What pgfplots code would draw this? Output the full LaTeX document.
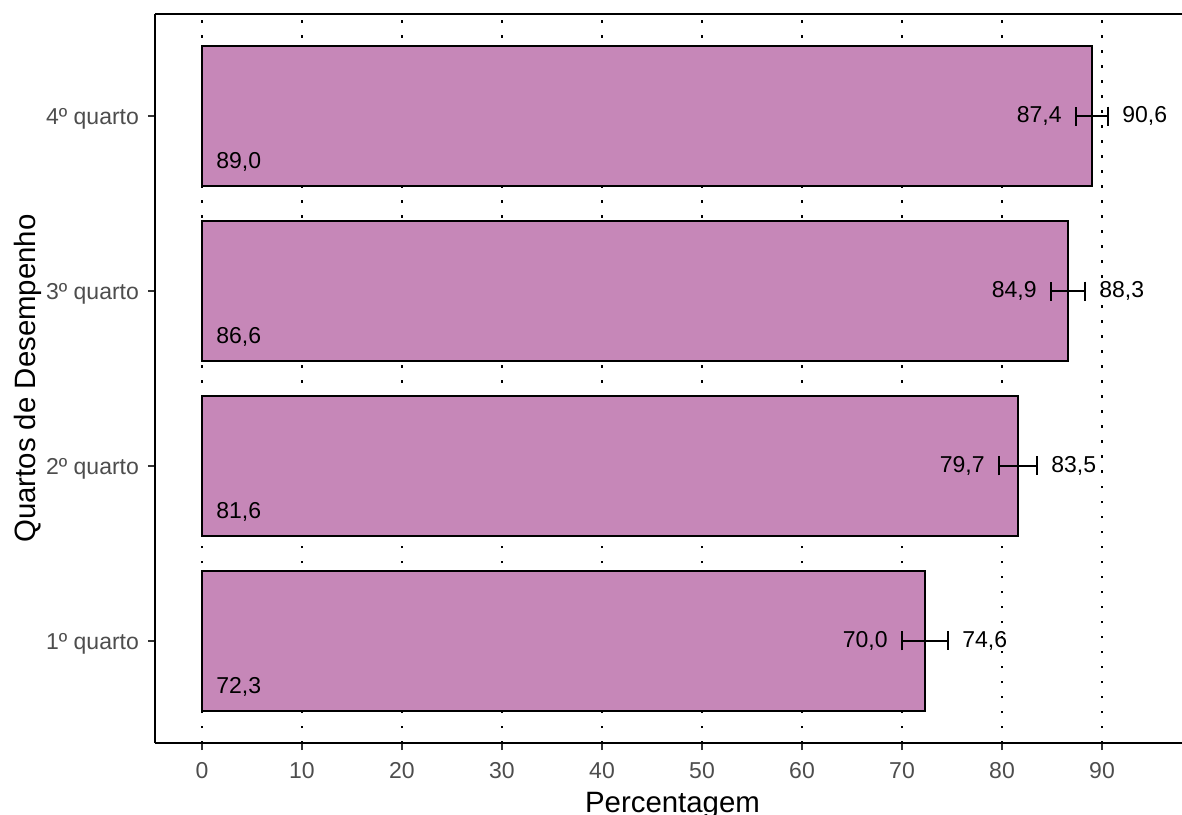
\documentclass[border=0pt]{standalone}
\usepackage{pgfplots}
\pgfplotsset{compat=1.18}
\usepackage{pgfplotstable}
\usepackage{fontspec}
\setmainfont{Liberation Sans}
\definecolor{barfill}{HTML}{C687B8}
\definecolor{ticklab}{HTML}{4D4D4D}
\definecolor{tickcol}{HTML}{333333}
\pgfplotstableread{
y val lo hi vlab lolab hilab
1 72.3 70.0 74.6 72,3 70,0 74,6
2 81.6 79.7 83.5 81,6 79,7 83,5
3 86.6 84.9 88.3 86,6 84,9 88,3
4 89.0 87.4 90.6 89,0 87,4 90,6
}\data
\begin{document}
\begin{tikzpicture}
\begin{axis}[
  name=ax,
  scale only axis,
  width=513.5pt, height=364.5pt,
  xmin=-4.7, xmax=98,
  ymin=0.417, ymax=4.583,
  axis x line=box, axis y line=left,
  axis line style={line width=1.1pt, -},
  xtick={0,10,...,90},
  ytick={1,2,3,4},
  yticklabels={1º quarto,2º quarto,3º quarto,4º quarto},
  xtick pos=bottom, ytick pos=left,
  tick align=outside,
  major tick length=3.5pt,
  tick style={line width=1pt, color=tickcol},
  /pgf/number format/assume math mode=true,
  ticklabel style={font=\fontsize{11.5}{13}\selectfont, text=ticklab},
  xticklabel style={yshift=-2.5pt},
  yticklabel style={xshift=-1pt, yshift=-1.5pt},
  xmajorgrids,
  grid style={black, line width=1.25pt, dash pattern=on 1.25pt off 6.25pt},
  xlabel={Percentagem},
  ylabel={Quartos de Desempenho},
  label style={font=\fontsize{14.7}{17}\selectfont},
  x label style={at={(axis description cs:0.5,0)}, anchor=base, yshift=-34.5pt, xshift=2pt},
  y label style={at={([xshift=-63.5pt]axis description cs:0,0.5)}, anchor=center},
]
\addplot[xbar, bar width=0.8, bar shift=0pt, fill=barfill, draw=black, line width=1.2pt]
  table[x=val, y=y] {\data};
\addplot[draw=none, mark=none,
  error bars/.cd, x dir=both, x explicit, error mark=|,
  error bar style={draw=black, solid, line width=1.2pt},
  error mark options={draw=black, solid, line width=1.2pt, mark size=4.75pt}]
  table[x=val, y=y, x error expr=\thisrow{hi}-\thisrow{val}] {\data};
\addplot[draw=none, mark=none, nodes near coords, point meta=explicit symbolic,
  nodes near coords style={anchor=west, inner sep=0pt, font=\fontsize{11.5}{13}\selectfont, text=black}]
  table[x expr=1.4, y expr=\thisrow{y}-0.26, meta=vlab] {\data};
\addplot[draw=none, mark=none, nodes near coords, point meta=explicit symbolic,
  nodes near coords style={anchor=east, inner sep=0pt, xshift=-7pt, font=\fontsize{11.5}{13}\selectfont, text=black}]
  table[x=lo, y=y, meta=lolab] {\data};
\addplot[draw=none, mark=none, nodes near coords, point meta=explicit symbolic,
  nodes near coords style={anchor=west, inner sep=0pt, xshift=7pt, font=\fontsize{11.5}{13}\selectfont, text=black}]
  table[x=hi, y=y, meta=hilab] {\data};
\end{axis}
\pgfresetboundingbox
\path ([xshift=-77.5pt,yshift=-35.5pt]ax.south west) rectangle ([yshift=7pt]ax.north east);
\end{tikzpicture}
\end{document}
